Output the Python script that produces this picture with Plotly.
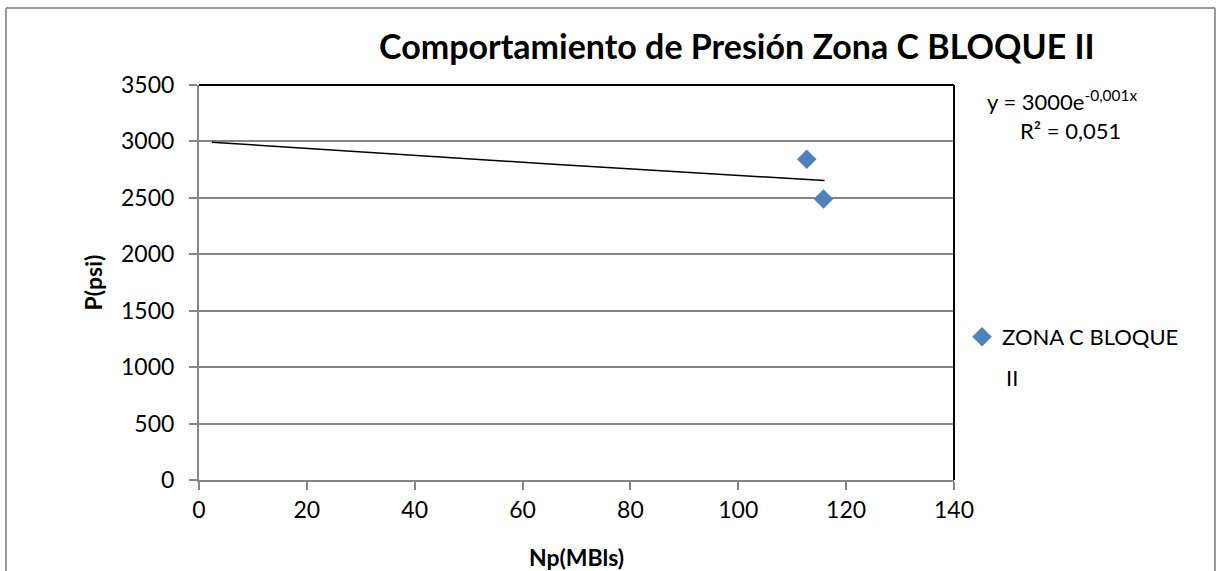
import numpy as np
import plotly.graph_objects as go

# Data
np_mbls = [112.7, 115.8]
p_psi = [2842, 2490]
series_name = "ZONA C BLOQUE"
series_name_cont = "II"

# Exponential trendline parameters (as displayed / fitted)
trend_a = 3000
trend_b = -0.00106
trend_x_range = [2.4, 116.0]

x_ticks = [0, 20, 40, 60, 80, 100, 120, 140]
y_ticks = [0, 500, 1000, 1500, 2000, 2500, 3000, 3500]

W, H = 1222, 571
L, R, T, B = 199, 954, 85, 480
FONT = "Lato"

def px(xp):
    return (xp - L) / (R - L)

def py(yp):
    return (B - yp) / (B - T)

tx = np.linspace(trend_x_range[0], trend_x_range[1], 50)
ty = trend_a * np.exp(trend_b * tx)

fig = go.Figure()
fig.add_trace(go.Scatter(x=tx, y=ty, mode="lines", line=dict(color="black", width=1.5),
                         showlegend=False, hoverinfo="skip"))
fig.add_trace(go.Scatter(x=np_mbls, y=p_psi, mode="markers", name=series_name,
                         marker=dict(symbol="diamond", size=15, color="#4F81BD")))

axis_font = dict(family=FONT, size=23, color="black")
fig.update_xaxes(range=[0, 140], tickvals=x_ticks, showgrid=False, zeroline=False,
                 showline=True, linecolor="#868686", linewidth=2,
                 ticks="outside", ticklen=8, tickcolor="#868686", tickwidth=2,
                 tickfont=axis_font, automargin=False,
                 title=dict(text="<b>Np(MBls)</b>", font=dict(family=FONT, size=23, color="black"), standoff=34))
fig.update_yaxes(range=[0, 3500], tickvals=y_ticks, showgrid=True, gridcolor="#868686", gridwidth=2,
                 zeroline=False, showline=True, linecolor="#868686", linewidth=2,
                 ticks="outside", ticklen=8, tickcolor="#868686", tickwidth=2,
                 tickfont=axis_font, ticklabelstandoff=10, automargin=False,
                 title=dict(text="<b>P(psi)</b>", font=dict(family=FONT, size=23, color="black"), standoff=12))

shapes = [
    dict(type="line", xref="paper", yref="paper", x0=0, x1=1, y0=1, y1=1, line=dict(color="black", width=2)),
    dict(type="line", xref="paper", yref="paper", x0=1, x1=1, y0=0, y1=1, line=dict(color="black", width=2)),
    dict(type="line", xref="paper", yref="paper", x0=px(6), x1=px(1215), y0=py(8), y1=py(8), line=dict(color="#999999", width=2)),
    dict(type="line", xref="paper", yref="paper", x0=px(6), x1=px(6), y0=py(8), y1=py(600), line=dict(color="#999999", width=2)),
    dict(type="line", xref="paper", yref="paper", x0=px(1215), x1=px(1215), y0=py(8), y1=py(600), line=dict(color="#999999", width=2)),
]

annotations = [
    dict(text="<b>Comportamiento de Presión Zona C BLOQUE II</b>", xref="paper", yref="paper",
         x=px(737), y=py(46), xanchor="center", yanchor="middle", showarrow=False,
         font=dict(family=FONT, size=34, color="black")),
    dict(text="y = 3000e<sup>-0,001x</sup>", xref="paper", yref="paper",
         x=px(1062), y=py(100), xanchor="center", yanchor="middle", showarrow=False,
         font=dict(family=FONT, size=22, color="black")),
    dict(text="R² = 0,051", xref="paper", yref="paper",
         x=px(1070), y=py(131), xanchor="center", yanchor="middle", showarrow=False,
         font=dict(family=FONT, size=22, color="black")),
    dict(text=series_name_cont, xref="paper", yref="paper",
         x=px(1004), y=py(377), xanchor="left", yanchor="middle", showarrow=False,
         font=dict(family=FONT, size=22, color="black")),
]

fig.update_layout(
    width=W, height=H, autosize=False,
    margin=dict(l=L, r=W - R, t=T, b=H - B),
    paper_bgcolor="white", plot_bgcolor="white",
    font=dict(family=FONT, color="black"),
    shapes=shapes, annotations=annotations,
    showlegend=True,
    legend=dict(x=px(962), y=py(337), xanchor="left", yanchor="middle",
                font=dict(family=FONT, size=22, color="black"),
                bgcolor="rgba(0,0,0,0)", itemwidth=30),
)

fig.write_html("out.html", config={"displayModeBar": False},
               post_script="document.body.style.margin='0';document.body.style.overflow='hidden';")
